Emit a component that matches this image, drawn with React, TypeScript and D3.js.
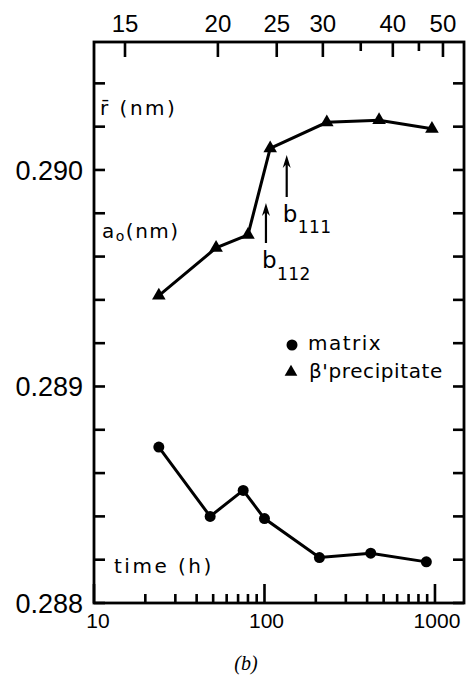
import React from "react";
import * as d3 from "d3";

// ---- data ----
const matrixTimes = [24, 48, 75, 100, 210, 420, 890];
const matrixA0 = [0.28872, 0.2884, 0.28852, 0.28839, 0.28821, 0.28823, 0.28819];

const precipTimes = [24, 52, 80, 108, 232, 470, 960];
const precipA0 = [0.28942, 0.28964, 0.2897, 0.2901, 0.29022, 0.29023, 0.29019];

const timeMajorTicks = [10, 100, 1000];
const timeMajorLabels = ["10", "100", "1000"];
const timeMinorTicks = [20, 30, 40, 50, 60, 70, 80, 90, 200, 300, 400, 500, 600, 700, 800, 900];

const a0MajorTicks = [0.288, 0.289, 0.29];
const a0MajorLabels = ["0.288", "0.289", "0.290"];
const a0MinorTicks = [0.2882, 0.2884, 0.2886, 0.2888, 0.2892, 0.2894, 0.2896, 0.2898, 0.2902, 0.2904];

const radiusTicks = [15, 20, 25, 30, 35, 40, 45, 50];
const radiusTickTimes = [15.2, 53.3, 118, 220, 367, 566, 805, 1114];
const radiusLabelled = [15, 20, 25, 30, 40, 50];

const arrowTimes = [102, 135];
const arrowSubscripts = ["112", "111"];

const W = 472;
const H = 679;
const LEFT = 94;
const RIGHT = 464;
const TOP = 42;
const BOTTOM = 603;
const TW = 2.6; // tick thickness

export default function App() {
  const x = d3.scaleLog().domain([10, 1480]).range([LEFT, RIGHT]);
  const y = d3.scaleLinear().domain([0.288, 0.290591]).range([BOTTOM, TOP]);

  const matrixPts = matrixTimes.map((t, i) => [t, matrixA0[i]] as [number, number]);
  const precipPts = precipTimes.map((t, i) => [t, precipA0[i]] as [number, number]);
  const line = d3
    .line<[number, number]>()
    .x((d) => x(d[0]))
    .y((d) => y(d[1]));
  const tri = d3.symbol(d3.symbolTriangle, 80)() as string;

  const numFont = "'Liberation Sans', Arial, sans-serif";
  const txtFont = "'DejaVu Sans', sans-serif";

  const bottomTicks = [
    ...timeMajorTicks.map((t) => ({ t, len: 19 })),
    ...timeMinorTicks.map((t) => ({ t, len: 9 })),
  ];
  const sideTicks = [...a0MajorTicks, ...a0MinorTicks];

  return (
    <svg
      width={W}
      height={H}
      viewBox={`0 0 ${W} ${H}`}
      style={{ position: "absolute", left: 0, top: 0, background: "#fff" }}
    >
      <rect x={0} y={0} width={W} height={H} fill="#fff" />
      {/* frame */}
      <rect
        x={LEFT}
        y={TOP}
        width={RIGHT - LEFT}
        height={BOTTOM - TOP}
        fill="none"
        stroke="#000"
        strokeWidth={2.8}
      />
      {/* ticks drawn as small filled rects */}
      <g fill="#000">
        {bottomTicks.map((d, i) => (
          <rect key={"b" + i} x={x(d.t) - TW / 2} y={BOTTOM - d.len} width={TW} height={d.len} />
        ))}
        {sideTicks.map((v, i) => (
          <g key={"s" + i}>
            <rect x={LEFT} y={y(v) - TW / 2} width={11} height={TW} />
            <rect x={RIGHT - 11} y={y(v) - TW / 2} width={11} height={TW} />
          </g>
        ))}
        {radiusTicks.map((r, i) => {
          const len = radiusLabelled.includes(r) ? 15 : 9;
          return (
            <rect key={"t" + i} x={x(radiusTickTimes[i]) - TW / 2} y={TOP} width={TW} height={len} />
          );
        })}
      </g>
      {timeMajorTicks.map((t, i) => (
        <text
          key={"bl" + t}
          x={x(t) + (i === 0 ? 4 : 2)}
          y={628}
          textAnchor="middle"
          fontFamily={numFont}
          fontSize={21}
        >
          {timeMajorLabels[i]}
        </text>
      ))}
      {a0MajorTicks.map((v, i) => (
        <text
          key={"ll" + v}
          x={83}
          y={y(v) + 10}
          textAnchor="end"
          fontFamily={numFont}
          fontSize={27}
        >
          {a0MajorLabels[i]}
        </text>
      ))}
      {radiusTicks.map((r, i) =>
        radiusLabelled.includes(r) ? (
          <text
            key={"tl" + r}
            x={x(radiusTickTimes[i])}
            y={32}
            textAnchor="middle"
            fontFamily={numFont}
            fontSize={24}
          >
            {String(r)}
          </text>
        ) : null
      )}
      {/* series lines */}
      <path d={line(matrixPts) || ""} fill="none" stroke="#000" strokeWidth={3} />
      <path d={line(precipPts) || ""} fill="none" stroke="#000" strokeWidth={3} />
      {matrixPts.map((d, i) => (
        <circle key={"m" + i} cx={x(d[0])} cy={y(d[1])} r={5.5} fill="#000" />
      ))}
      {precipPts.map((d, i) => (
        <path key={"p" + i} d={tri} transform={`translate(${x(d[0])},${y(d[1])})`} fill="#000" />
      ))}
      {/* arrows */}
      {arrowTimes.map((t, i) => {
        const ax = x(t);
        const y0 = i === 0 ? 243 : 197;
        const y1 = i === 0 ? 203 : 155;
        return (
          <g key={"a" + i}>
            <line x1={ax} x2={ax} y1={y0} y2={y1 + 6} stroke="#000" strokeWidth={2.2} />
            <path d={`M${ax},${y1} L${ax - 4},${y1 + 13} L${ax},${y1 + 9} L${ax + 4},${y1 + 13} Z`} fill="#000" />
            <text x={ax - 4} y={i === 0 ? 268 : 222} fontFamily={txtFont} fontSize={23}>
              b
            </text>
            <text x={ax + 11} y={i === 0 ? 280 : 233} fontFamily={txtFont} fontSize={17} letterSpacing={0.5}>
              {arrowSubscripts[i]}
            </text>
          </g>
        );
      })}
      {/* axis titles */}
      <text x={100} y={115} fontFamily={txtFont} fontSize={20} letterSpacing={2.5}>
        r̄ (nm)
      </text>
      <text x={102} y={238} fontFamily={txtFont} fontSize={20} letterSpacing={1.5}>
        a
        <tspan fontSize={14} dy={3}>o</tspan>
        <tspan dy={-3}>(nm)</tspan>
      </text>
      <text x={114} y={573} fontFamily={txtFont} fontSize={20} letterSpacing={2.5}>
        time (h)
      </text>
      {/* legend */}
      <circle cx={292} cy={345} r={5.5} fill="#000" />
      <text x={308} y={350} fontFamily={txtFont} fontSize={20} letterSpacing={1.5}>
        matrix
      </text>
      <path d={d3.symbol(d3.symbolTriangle, 70)() as string} transform="translate(291,372)" fill="#000" />
      <text x={309} y={378} fontFamily={txtFont} fontSize={20} letterSpacing={0.6}>
        β'precipitate
      </text>
      {/* caption */}
      <text
        x={246}
        y={670}
        textAnchor="middle"
        fontFamily="'Liberation Serif', 'Times New Roman', serif"
        fontStyle="italic"
        fontSize={20}
      >
        (b)
      </text>
    </svg>
  );
}
